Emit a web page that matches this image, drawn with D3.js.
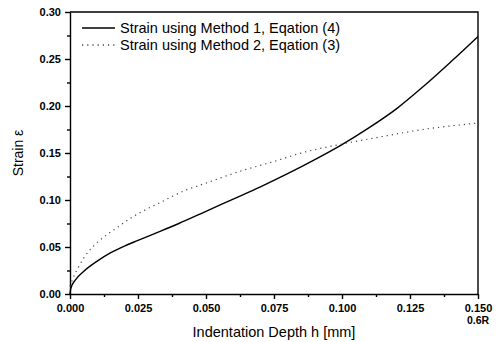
<!DOCTYPE html>
<html>
<head>
<meta charset="utf-8">
<script src="https://cdn.jsdelivr.net/npm/d3@7"></script>
<style>
  body { margin: 0; background: #fff; }
  svg { font-family: "Liberation Sans", Arial, sans-serif; }
  .axis path, .axis line { stroke: #000; stroke-width: 1.4; }
  .axis text { font-size: 11px; font-weight: bold; fill: #000; }
</style>
</head>
<body>
<svg id="chart" width="496" height="342"></svg>
<script>
// values
var depthSolid = [0, 0.0003, 0.002, 0.005, 0.010, 0.015, 0.020, 0.025, 0.030, 0.040, 0.050,
  0.060, 0.070, 0.080, 0.090, 0.100, 0.110, 0.120, 0.130, 0.140, 0.150];
var strainSolid = [0, 0.006, 0.015, 0.024, 0.035, 0.044, 0.051, 0.057, 0.063, 0.075, 0.088,
  0.101, 0.114, 0.128, 0.143, 0.159, 0.177, 0.197, 0.221, 0.247, 0.274];

var depthDotted = [0, 0.001, 0.003, 0.007, 0.009, 0.014, 0.017, 0.023, 0.028, 0.033, 0.037,
  0.043, 0.048, 0.063, 0.075, 0.085, 0.099, 0.112, 0.132, 0.147, 0.150];
var strainDotted = [0.008, 0.016, 0.028, 0.046, 0.052, 0.064, 0.070, 0.082, 0.090, 0.097, 0.103,
  0.111, 0.116, 0.131, 0.141, 0.150, 0.159, 0.166, 0.176, 0.181, 0.182];

var xTicks = [0, 0.025, 0.05, 0.075, 0.1, 0.125, 0.15];
var yTicks = [0, 0.05, 0.1, 0.15, 0.2, 0.25, 0.3];
var legendLabels = ["Strain using Method 1, Eqation (4)", "Strain using Method 2, Eqation (3)"];

var svg = d3.select("#chart"),
  margin = { top: 12, right: 18, bottom: 48, left: 70 },
  width = +svg.attr("width") - margin.left - margin.right,
  height = +svg.attr("height") - margin.top - margin.bottom;

var x = d3.scaleLinear().domain([0, 0.15]).range([0, width]),
  y = d3.scaleLinear().domain([0, 0.3]).range([height, 0]);

var g = svg.append("g")
  .attr("transform", "translate(" + margin.left + "," + margin.top + ")");

// minor ticks
g.append("g")
  .attr("class", "axis")
  .attr("transform", "translate(0," + height + ")")
  .call(d3.axisBottom(x).tickValues(d3.range(0.0125, 0.15, 0.025)).tickSize(3).tickFormat(""))
  .select(".domain").remove();
g.append("g")
  .attr("class", "axis")
  .call(d3.axisLeft(y).tickValues(d3.range(0.025, 0.3, 0.05)).tickSize(3).tickFormat(""))
  .select(".domain").remove();

// major axes
g.append("g")
  .attr("class", "axis")
  .attr("transform", "translate(0," + height + ")")
  .call(d3.axisBottom(x).tickValues(xTicks).tickSize(5).tickSizeOuter(0).tickFormat(d3.format(".3f")))
  .selectAll("text").attr("dy", "0.95em");

g.append("g")
  .attr("class", "axis")
  .call(d3.axisLeft(y).tickValues(yTicks).tickSize(5).tickSizeOuter(0).tickFormat(d3.format(".2f")))
  .selectAll("text").attr("dy", "0.35em").attr("x", -9);

// frame top and right
g.append("path")
  .attr("d", "M0,0H" + width + "V" + height)
  .attr("fill", "none")
  .attr("stroke", "#000")
  .attr("stroke-width", 1.4);

g.append("text")
  .attr("x", x(0.15))
  .attr("y", height + 30)
  .attr("text-anchor", "middle")
  .style("font-size", "10.5px")
  .style("font-weight", "bold")
  .text("0.6R");

var line = d3.line()
  .x(function (d) { return x(d[0]); })
  .y(function (d) { return y(d[1]); })
  .curve(d3.curveMonotoneX);

g.append("path")
  .datum(d3.zip(depthSolid, strainSolid))
  .attr("fill", "none")
  .attr("stroke", "#000")
  .attr("stroke-width", 1.4)
  .attr("d", line);

g.append("path")
  .datum(d3.zip(depthDotted, strainDotted))
  .attr("fill", "none")
  .attr("stroke", "#444")
  .attr("stroke-width", 1.2)
  .attr("stroke-dasharray", "1.2,4")
  .attr("d", line);

// legend
var legend = g.append("g").attr("transform", "translate(12,16)");
legendLabels.forEach(function (label, i) {
  legend.append("line")
    .attr("x1", 0).attr("x2", 33)
    .attr("y1", i * 17).attr("y2", i * 17)
    .attr("stroke", i === 0 ? "#000" : "#444")
    .attr("stroke-width", 1.4)
    .attr("stroke-dasharray", i === 0 ? null : "1.2,4");
  legend.append("text")
    .attr("x", 38)
    .attr("y", i * 17)
    .attr("dy", "0.35em")
    .style("font-size", "14.5px")
    .text(label);
});

// axis titles
svg.append("text")
  .attr("x", margin.left + width / 2)
  .attr("y", 337)
  .attr("text-anchor", "middle")
  .style("font-size", "14.5px")
  .text("Indentation Depth h [mm]");

svg.append("text")
  .attr("transform", "translate(23," + (margin.top + height / 2) + ") rotate(-90)")
  .attr("text-anchor", "middle")
  .style("font-size", "14px")
  .text("Strain \u03b5");
</script>
</body>
</html>
